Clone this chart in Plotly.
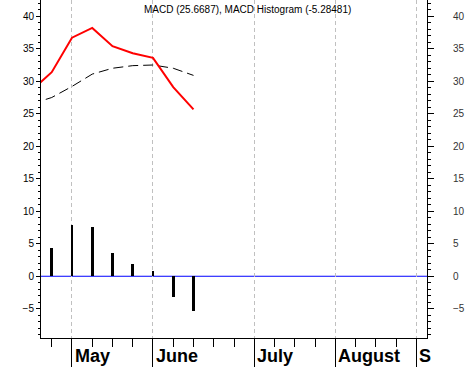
import plotly.graph_objects as go

# ---- data (weekly) ----
weeks = [-1, 0, 1, 2, 3, 4, 5, 6, 7]
macd = [28.6, 31.4, 36.7, 38.2, 35.4, 34.3, 33.6, 29.1, 25.67]
signal = [26.5, 27.5, 29.2, 31.1, 32.0, 32.4, 32.5, 32.0, 30.9]
hist_weeks = [0, 1, 2, 3, 4, 5, 6, 7]
hist = [4.3, 7.95, 7.6, 3.6, 1.95, 0.8, -3.2, -5.28]

month_names = ["May", "June", "July", "August", "S"]
month_weeks = [1, 5, 10, 14, 18]
week_ticks = list(range(0, 19))
y_ticks = [-5, 0, 5, 10, 15, 20, 25, 30, 35, 40]

title_text = "MACD (25.6687), MACD Histogram (-5.28481)"

FONT = "Liberation Sans, Arial, sans-serif"
x_range = [-0.53, 18.53]
y_range = [-9.5, 42.5]

fig = go.Figure()

fig.add_trace(go.Scatter(x=weeks, y=signal, mode="lines",
                         line=dict(color="black", width=1, dash="10px,5px"),
                         hoverinfo="skip", showlegend=False))
fig.add_trace(go.Scatter(x=weeks, y=macd, mode="lines",
                         line=dict(color="#ff0000", width=2),
                         hoverinfo="skip", showlegend=False))
fig.add_trace(go.Bar(x=hist_weeks, y=hist, width=0.14,
                     marker=dict(color="black", line=dict(width=0)),
                     yaxis="y2", showlegend=False, hoverinfo="skip"))

fig.add_shape(type="line", xref="paper", x0=0, x1=1, yref="y", y0=0, y1=0,
              line=dict(color="#0000ff", width=1), layer="below")

fig.add_annotation(text=title_text, xref="paper", yref="paper",
                   x=0.536, y=0.973, xanchor="center", yanchor="middle",
                   showarrow=False, font=dict(family=FONT, size=10, color="black"))

for name, w in zip(month_names, month_weeks):
    fig.add_annotation(text="<b>" + name + "</b>", x=w, xref="x",
                       y=-0.054, yref="paper", xanchor="left", yanchor="middle",
                       xshift=1, showarrow=False,
                       font=dict(family=FONT, size=18, color="black"))

yaxis_common = dict(range=y_range, tickmode="array", tickvals=y_ticks,
                    ticks="outside", tickcolor="black", tickwidth=1,
                    showline=True, linecolor="black", linewidth=1,
                    showgrid=False, zeroline=False, automargin=False,
                    tickfont=dict(family=FONT, size=10, color="black"))

fig.update_layout(
    width=467, height=367,
    margin=dict(l=41, r=40, t=0, b=29, pad=0),
    paper_bgcolor="white", plot_bgcolor="white",
    bargap=0,
    xaxis=dict(range=x_range, tickmode="array", tickvals=month_weeks,
               ticks="outside", ticklen=29, tickwidth=1, tickcolor="black",
               showticklabels=False, automargin=False,
               showgrid=True, gridcolor="#c0c0c0", griddash="4px,3px", gridwidth=1,
               showline=True, linecolor="black", linewidth=1, zeroline=False,
               minor=dict(tickmode="array", tickvals=week_ticks, ticks="outside",
                          ticklen=8, tickwidth=1, tickcolor="black", showgrid=False)),
    yaxis=dict(**yaxis_common, ticklen=4,
               minor=dict(tick0=0, dtick=1, ticks="outside", ticklen=2,
                          tickcolor="black", showgrid=False)),
    yaxis2=dict(**{k: v for k, v in yaxis_common.items() if k != "tickfont"},
                overlaying="y", side="right", matches="y", ticklen=6,
                ticklabelstandoff=17,
                tickfont=dict(family=FONT, size=10, color="#333333"),
                minor=dict(tick0=0, dtick=1, ticks="outside", ticklen=3,
                           tickcolor="black", showgrid=False)),
)

fig.write_html("out.html", config={"displayModeBar": False},
               post_script="document.body.style.margin='0px';document.body.style.overflow='hidden';")
